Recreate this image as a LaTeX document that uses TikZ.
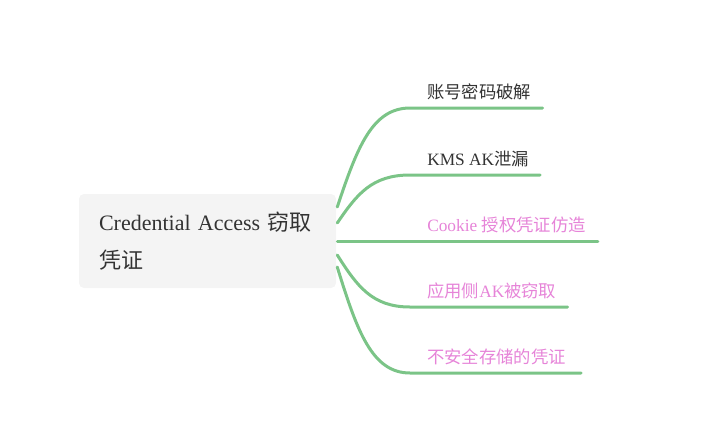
\documentclass[tikz,border=0pt]{standalone}
\usepackage{fontspec}
\setmainfont{Liberation Serif}
\newfontfamily\cjk{Noto Sans CJK SC}
\usetikzlibrary{positioning}
\usetikzlibrary{calc}
\definecolor{branchgreen}{HTML}{7BC487}
\definecolor{leafpink}{HTML}{E684D8}
\definecolor{textgray}{HTML}{333333}
\definecolor{rootfill}{HTML}{F4F4F4}
\tikzset{
	rootbox/.style={rectangle, rounded corners=3.75pt, fill=rootfill, text=textgray,
		minimum width=192.75pt, minimum height=70.5pt, text width=162.75pt, align=left,
		inner xsep=15pt, font=\fontsize{16.5}{28.5}\selectfont},
	leaf/.style={anchor=base west, inner sep=0pt, text=textgray, font=\fontsize{13}{16}\selectfont},
	pinkleaf/.style={leaf, text=leafpink},
	branch/.style={draw=branchgreen, line width=2.25pt, line cap=round},
}
\begin{document}
\begin{tikzpicture}[x=0.75pt, y=-0.75pt]
		\useasboundingbox (0,0) rectangle (715,440);
		\node at (207.5,241) [rootbox] (root) {Credential Access {\cjk 窃取}\\{\cjk 凭证}};
		
		\node at (427,98) [leaf] (acct) {\cjk 账号密码破解};
		\node at (427,165) [leaf] (kms) {KMS AK{\cjk 泄漏}};
		\node at (427,231) [pinkleaf] (cookie) {Cookie {\cjk 授权凭证仿造}};
		\node at (427,297) [pinkleaf] (appak) {{\cjk 应用侧}AK{\cjk 被窃取}};
		\node at (427,363) [pinkleaf] (store) {\cjk 不安全存储的凭证};
		
		% branches leave the right edge of the root box, then run under each label
		\coordinate (acctS) at ($(root.east)+(1,-34)$);
		\coordinate (kmsS) at ($(root.east)+(1,-18)$);
		\coordinate (cookieS) at ($(root.east)+(1,0)$);
		\coordinate (appakS) at ($(root.east)+(1,14)$);
		\coordinate (storeS) at ($(root.east)+(1,26)$);
		
		\draw [branch] (acctS) .. controls (357,148) and (372,108) .. (410,108) -- ($(410,108 -| acct.east)+(11,0)$);
		\draw [branch] (kmsS) .. controls (357,194) and (372,175) .. (410,175) -- ($(410,175 -| kms.east)+(11,0)$);
		\draw [branch] (cookieS) -- ($(cookieS -| cookie.east)+(12,0)$);
		\draw [branch] (appakS) .. controls (357,286) and (372,307) .. (410,307) -- ($(410,307 -| appak.east)+(11,0)$);
		\draw [branch] (storeS) .. controls (357,331) and (372,373) .. (410,373) -- ($(410,373 -| store.east)+(15,0)$);
		
		\end{tikzpicture}
\end{document}
